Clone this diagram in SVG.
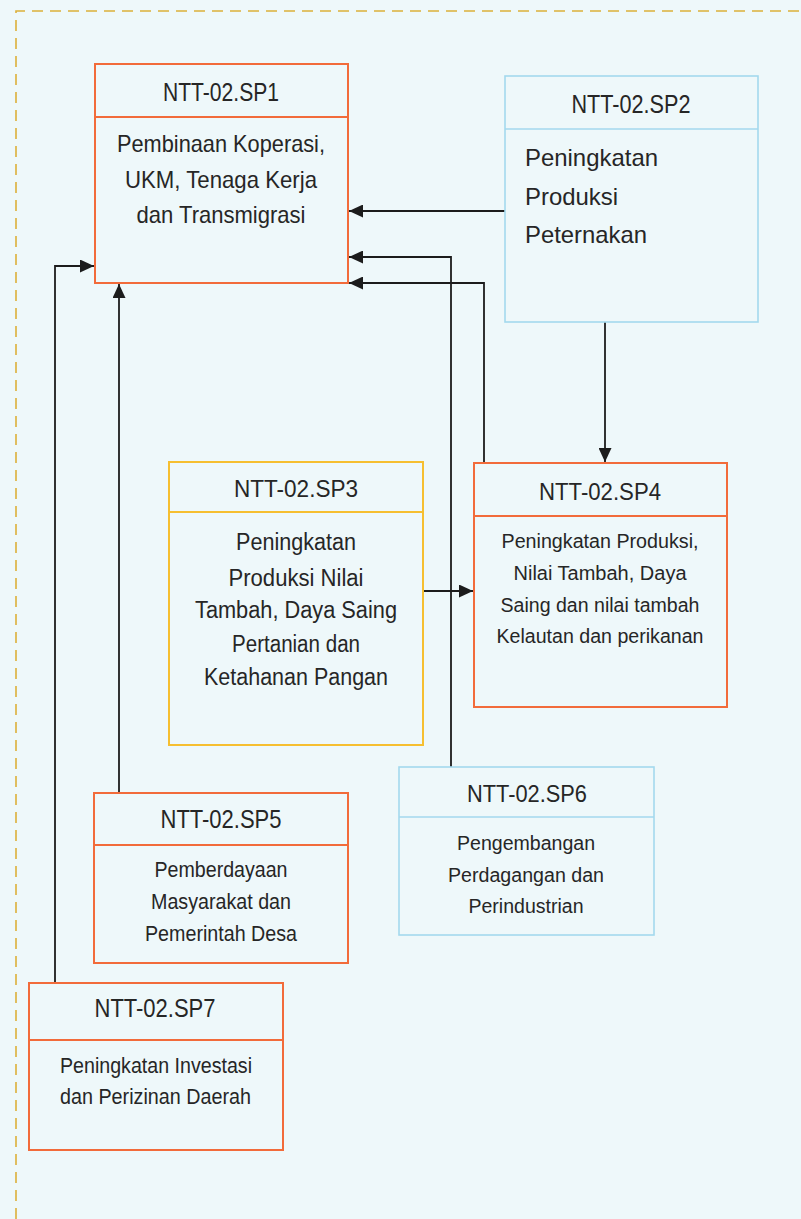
<svg xmlns="http://www.w3.org/2000/svg" width="801" height="1219" viewBox="0 0 801 1219">
  <defs>
    <marker id="arrow" markerUnits="userSpaceOnUse" markerWidth="15" markerHeight="13" refX="14" refY="6.5" orient="auto">
      <path d="M0,0 L14,6.5 L0,13 Z" fill="#1c1c1c"/>
    </marker>
    <style>
      text { font-family: "Liberation Sans", Arial, sans-serif; fill: #262626; }
      .mid { text-anchor: middle; }
      .box { fill: none; }
      .orange { stroke: #f26b3a; stroke-width: 2; }
      .yellow { stroke: #f6bf30; stroke-width: 2; }
      .blue { stroke: #a3d9ee; stroke-width: 1.6; }
      .conn { fill: none; stroke: #1c1c1c; stroke-width: 1.8; marker-end: url(#arrow); }
      .frame { fill: none; stroke: #dcb03a; stroke-width: 1.6; stroke-dasharray: 11 7; }
    </style>
  </defs>

  <rect x="0" y="0" width="801" height="1219" fill="#eef8fa"/>

  <!-- dashed outer frame -->
  <path class="frame" d="M16,1219 L16,11 L801,11"/>

  <!-- connectors -->
  <g id="connectors">
    <path class="conn" d="M505,211 L349,211"/>
    <path class="conn" d="M451,767 L451,257 L349,257"/>
    <path class="conn" d="M484,463 L484,283 L349,283"/>
    <path class="conn" d="M605,322 L605,462"/>
    <path class="conn" d="M423,591 L473,591"/>
    <path class="conn" d="M119,793 L119,284"/>
    <path class="conn" d="M55,983 L55,266 L94,266"/>
  </g>

  <!-- SP1 -->
  <g id="sp1">
    <rect class="box orange" x="95" y="64" width="253" height="219"/>
    <line class="orange" x1="95" y1="117" x2="348" y2="117"/>
    <text class="mid" x="221" y="101" font-size="25.5" textLength="116" lengthAdjust="spacingAndGlyphs">NTT-02.SP1</text>
    <text class="mid" x="221" y="152" font-size="24" textLength="208" lengthAdjust="spacingAndGlyphs">Pembinaan Koperasi,</text>
    <text class="mid" x="221" y="188" font-size="24" textLength="192" lengthAdjust="spacingAndGlyphs">UKM, Tenaga Kerja</text>
    <text class="mid" x="221" y="223" font-size="24" textLength="169" lengthAdjust="spacingAndGlyphs">dan Transmigrasi</text>
  </g>

  <!-- SP2 -->
  <g id="sp2">
    <rect class="box blue" x="505" y="76" width="253" height="246"/>
    <line class="blue" x1="505" y1="129" x2="758" y2="129"/>
    <text class="mid" x="631" y="113" font-size="26" textLength="119" lengthAdjust="spacingAndGlyphs">NTT-02.SP2</text>
    <text x="525" y="166" font-size="24" textLength="133" lengthAdjust="spacingAndGlyphs">Peningkatan</text>
    <text x="525" y="205" font-size="24" textLength="93" lengthAdjust="spacingAndGlyphs">Produksi</text>
    <text x="525" y="243" font-size="24" textLength="122" lengthAdjust="spacingAndGlyphs">Peternakan</text>
  </g>

  <!-- SP3 -->
  <g id="sp3">
    <rect class="box yellow" x="169" y="462" width="254" height="283"/>
    <line class="yellow" x1="169" y1="512" x2="423" y2="512"/>
    <text class="mid" x="296" y="497" font-size="24" textLength="124" lengthAdjust="spacingAndGlyphs">NTT-02.SP3</text>
    <text class="mid" x="296" y="550" font-size="23" textLength="120" lengthAdjust="spacingAndGlyphs">Peningkatan</text>
    <text class="mid" x="296" y="586" font-size="23" textLength="135" lengthAdjust="spacingAndGlyphs">Produksi Nilai</text>
    <text class="mid" x="296" y="618" font-size="23" textLength="202" lengthAdjust="spacingAndGlyphs">Tambah, Daya Saing</text>
    <text class="mid" x="296" y="652" font-size="23" textLength="128" lengthAdjust="spacingAndGlyphs">Pertanian dan</text>
    <text class="mid" x="296" y="685" font-size="23" textLength="184" lengthAdjust="spacingAndGlyphs">Ketahanan Pangan</text>
  </g>

  <!-- SP4 -->
  <g id="sp4">
    <rect class="box orange" x="474" y="463" width="253" height="244"/>
    <line class="orange" x1="474" y1="516" x2="727" y2="516"/>
    <text class="mid" x="600" y="500" font-size="24" textLength="122" lengthAdjust="spacingAndGlyphs">NTT-02.SP4</text>
    <text class="mid" x="600" y="548" font-size="20" textLength="197" lengthAdjust="spacingAndGlyphs">Peningkatan Produksi,</text>
    <text class="mid" x="600" y="580" font-size="20" textLength="173" lengthAdjust="spacingAndGlyphs">Nilai Tambah, Daya</text>
    <text class="mid" x="600" y="612" font-size="20" textLength="199" lengthAdjust="spacingAndGlyphs">Saing dan nilai tambah</text>
    <text class="mid" x="600" y="643" font-size="20" textLength="207" lengthAdjust="spacingAndGlyphs">Kelautan dan perikanan</text>
  </g>

  <!-- SP5 -->
  <g id="sp5">
    <rect class="box orange" x="94" y="793" width="254" height="170"/>
    <line class="orange" x1="94" y1="845" x2="348" y2="845"/>
    <text class="mid" x="221" y="828" font-size="25.5" textLength="121" lengthAdjust="spacingAndGlyphs">NTT-02.SP5</text>
    <text class="mid" x="221" y="877" font-size="22" textLength="133" lengthAdjust="spacingAndGlyphs">Pemberdayaan</text>
    <text class="mid" x="221" y="909" font-size="22" textLength="140" lengthAdjust="spacingAndGlyphs">Masyarakat dan</text>
    <text class="mid" x="221" y="941" font-size="22" textLength="152" lengthAdjust="spacingAndGlyphs">Pemerintah Desa</text>
  </g>

  <!-- SP6 -->
  <g id="sp6">
    <rect class="box blue" x="399" y="767" width="255" height="168"/>
    <line class="blue" x1="399" y1="817" x2="654" y2="817"/>
    <text class="mid" x="527" y="802" font-size="23" textLength="120" lengthAdjust="spacingAndGlyphs">NTT-02.SP6</text>
    <text class="mid" x="526" y="850" font-size="20" textLength="138" lengthAdjust="spacingAndGlyphs">Pengembangan</text>
    <text class="mid" x="526" y="882" font-size="20" textLength="156" lengthAdjust="spacingAndGlyphs">Perdagangan dan</text>
    <text class="mid" x="526" y="913" font-size="20" textLength="115" lengthAdjust="spacingAndGlyphs">Perindustrian</text>
  </g>

  <!-- SP7 -->
  <g id="sp7">
    <rect class="box orange" x="29" y="983" width="254" height="167"/>
    <line class="orange" x1="29" y1="1040" x2="283" y2="1040"/>
    <text class="mid" x="155" y="1017" font-size="25.5" textLength="121" lengthAdjust="spacingAndGlyphs">NTT-02.SP7</text>
    <text x="60" y="1073" font-size="22" textLength="192" lengthAdjust="spacingAndGlyphs">Peningkatan Investasi</text>
    <text x="60" y="1104" font-size="22" textLength="191" lengthAdjust="spacingAndGlyphs">dan Perizinan Daerah</text>
  </g>
</svg>
